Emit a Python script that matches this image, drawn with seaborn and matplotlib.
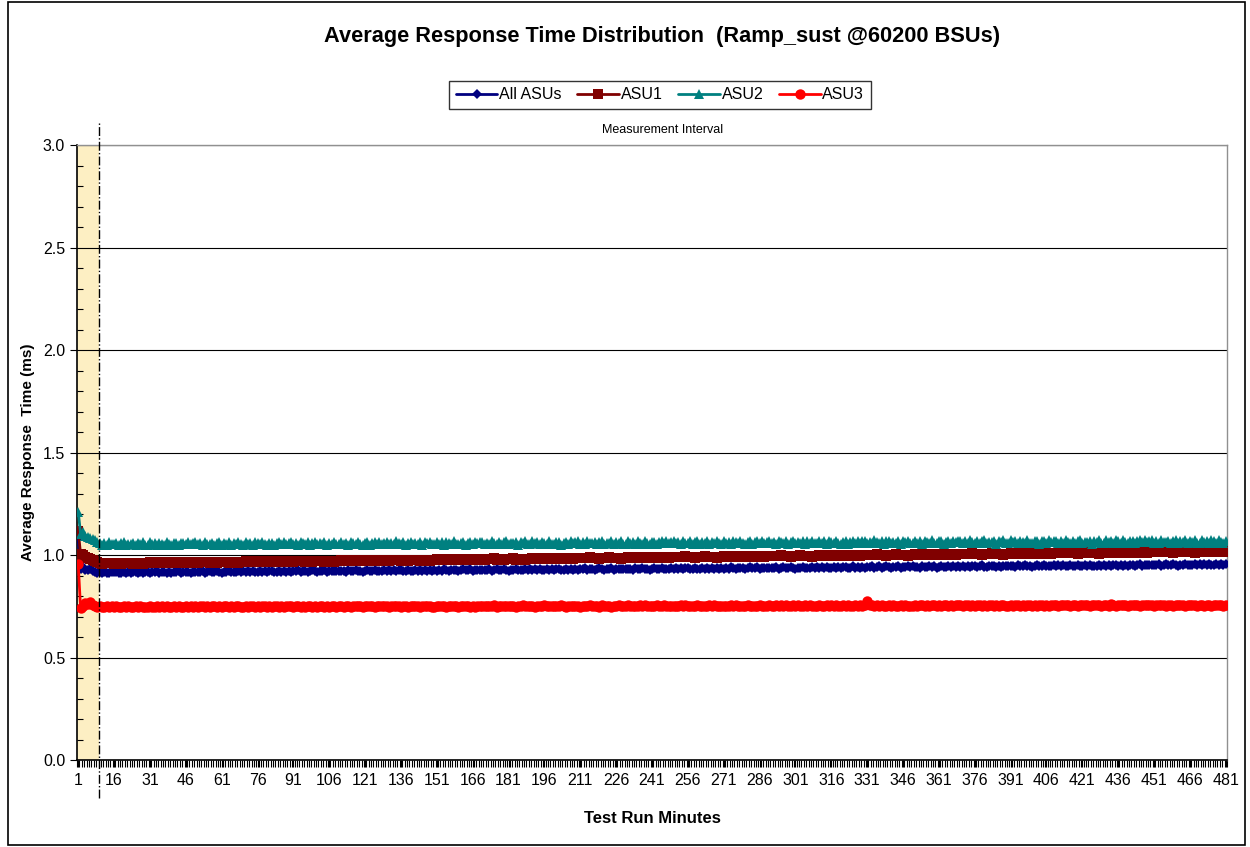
import matplotlib
matplotlib.use("Agg")
import matplotlib.pyplot as plt
import matplotlib.patches as mpatches
from matplotlib.ticker import MultipleLocator, FixedLocator, FormatStrFormatter
import numpy as np
import pandas as pd
import seaborn as sns

# Average response time (ms) per test-run minute
all_asus = [
    1.082, 0.934, 0.941, 0.928, 0.925, 0.931, 0.922, 0.919, 0.914,
    0.916, 0.912, 0.918, 0.913, 0.911, 0.917, 0.915, 0.919, 0.912, 0.914, 0.918, 0.910, 0.916, 0.913, 0.917, 0.915, 0.911, 0.919, 0.914, 0.916,
    0.918, 0.913, 0.917, 0.915, 0.920, 0.912, 0.916, 0.919, 0.914, 0.917, 0.913, 0.918, 0.916, 0.920, 0.914, 0.917, 0.915, 0.919, 0.913, 0.918,
    0.915, 0.919, 0.916, 0.921, 0.914, 0.918, 0.920, 0.915, 0.917, 0.922, 0.916, 0.914, 0.919, 0.917, 0.921, 0.915, 0.918, 0.916, 0.920, 0.917,
    0.921, 0.917, 0.920, 0.916, 0.922, 0.919, 0.917, 0.923, 0.918, 0.921, 0.916, 0.920, 0.922, 0.918, 0.919, 0.924, 0.917, 0.921, 0.919, 0.922,
    0.919, 0.923, 0.920, 0.925, 0.918, 0.922, 0.924, 0.919, 0.921, 0.926, 0.920, 0.918, 0.923, 0.921, 0.925, 0.919, 0.922, 0.920, 0.924, 0.921,
    0.924, 0.920, 0.923, 0.919, 0.926, 0.922, 0.920, 0.925, 0.921, 0.924, 0.919, 0.923, 0.926, 0.921, 0.922, 0.927, 0.920, 0.924, 0.922, 0.925,
    0.922, 0.926, 0.923, 0.928, 0.921, 0.925, 0.927, 0.922, 0.924, 0.929, 0.923, 0.921, 0.926, 0.924, 0.928, 0.922, 0.925, 0.923, 0.927, 0.924,
    0.928, 0.924, 0.927, 0.923, 0.930, 0.926, 0.924, 0.929, 0.925, 0.928, 0.923, 0.927, 0.930, 0.925, 0.926, 0.931, 0.924, 0.928, 0.926, 0.929,
    0.925, 0.929, 0.926, 0.931, 0.924, 0.928, 0.930, 0.925, 0.927, 0.932, 0.926, 0.924, 0.929, 0.927, 0.931, 0.925, 0.928, 0.926, 0.930, 0.927,
    0.931, 0.927, 0.930, 0.926, 0.933, 0.929, 0.927, 0.932, 0.928, 0.931, 0.926, 0.930, 0.933, 0.928, 0.929, 0.934, 0.927, 0.931, 0.929, 0.932,
    0.929, 0.933, 0.930, 0.935, 0.928, 0.932, 0.934, 0.929, 0.931, 0.936, 0.930, 0.928, 0.933, 0.931, 0.935, 0.929, 0.932, 0.930, 0.934, 0.931,
    0.934, 0.930, 0.933, 0.929, 0.936, 0.932, 0.930, 0.935, 0.931, 0.934, 0.929, 0.933, 0.936, 0.931, 0.932, 0.937, 0.930, 0.934, 0.932, 0.935,
    0.932, 0.936, 0.933, 0.938, 0.931, 0.935, 0.937, 0.932, 0.934, 0.939, 0.933, 0.931, 0.936, 0.934, 0.938, 0.932, 0.935, 0.933, 0.937, 0.934,
    0.938, 0.934, 0.937, 0.933, 0.940, 0.936, 0.934, 0.939, 0.935, 0.938, 0.933, 0.937, 0.940, 0.935, 0.936, 0.941, 0.934, 0.938, 0.936, 0.939,
    0.935, 0.939, 0.936, 0.941, 0.934, 0.938, 0.940, 0.935, 0.937, 0.942, 0.936, 0.934, 0.939, 0.937, 0.941, 0.935, 0.938, 0.936, 0.940, 0.937,
    0.941, 0.937, 0.940, 0.936, 0.943, 0.939, 0.937, 0.942, 0.938, 0.941, 0.936, 0.940, 0.943, 0.938, 0.939, 0.944, 0.937, 0.941, 0.939, 0.942,
    0.939, 0.943, 0.940, 0.945, 0.938, 0.942, 0.944, 0.939, 0.941, 0.946, 0.940, 0.938, 0.943, 0.941, 0.945, 0.939, 0.942, 0.940, 0.944, 0.941,
    0.944, 0.940, 0.943, 0.939, 0.946, 0.942, 0.940, 0.945, 0.941, 0.944, 0.939, 0.943, 0.946, 0.941, 0.942, 0.947, 0.940, 0.944, 0.942, 0.945,
    0.942, 0.946, 0.943, 0.948, 0.941, 0.945, 0.947, 0.942, 0.944, 0.949, 0.943, 0.941, 0.946, 0.944, 0.948, 0.942, 0.945, 0.943, 0.947, 0.944,
    0.948, 0.944, 0.947, 0.943, 0.950, 0.946, 0.944, 0.949, 0.945, 0.948, 0.943, 0.947, 0.950, 0.945, 0.946, 0.951, 0.944, 0.948, 0.946, 0.949,
    0.945, 0.949, 0.946, 0.951, 0.944, 0.948, 0.950, 0.945, 0.947, 0.952, 0.946, 0.944, 0.949, 0.947, 0.951, 0.945, 0.948, 0.946, 0.950, 0.947,
    0.951, 0.947, 0.950, 0.946, 0.953, 0.949, 0.947, 0.952, 0.948, 0.951, 0.946, 0.950, 0.953, 0.948, 0.949, 0.954, 0.947, 0.951, 0.949, 0.952,
    0.949, 0.953, 0.950, 0.955, 0.948, 0.952, 0.954, 0.949, 0.951, 0.956, 0.950, 0.948, 0.953, 0.951, 0.955, 0.949, 0.952, 0.950, 0.954, 0.951,
    0.955, 0.951, 0.954, 0.950, 0.957, 0.953, 0.951, 0.956, 0.952, 0.955, 0.950, 0.954,
]

asu1 = [
    1.118, 1.004, 0.998, 0.992, 0.987, 0.981, 0.976, 0.972, 0.968,
    0.961, 0.958, 0.962, 0.960, 0.959, 0.963, 0.958, 0.961, 0.960, 0.957, 0.962, 0.959, 0.961, 0.963, 0.958, 0.960, 0.962, 0.959, 0.957, 0.961,
    0.962, 0.965, 0.963, 0.961, 0.966, 0.962, 0.964, 0.960, 0.965, 0.963, 0.961, 0.964, 0.966, 0.962, 0.963, 0.961, 0.965, 0.964, 0.962, 0.965,
    0.966, 0.963, 0.967, 0.965, 0.964, 0.968, 0.963, 0.966, 0.965, 0.962, 0.967, 0.964, 0.966, 0.968, 0.963, 0.965, 0.967, 0.964, 0.962, 0.966,
    0.967, 0.970, 0.968, 0.966, 0.971, 0.967, 0.969, 0.965, 0.970, 0.968, 0.966, 0.969, 0.971, 0.967, 0.968, 0.966, 0.970, 0.969, 0.967, 0.970,
    0.971, 0.968, 0.972, 0.970, 0.969, 0.973, 0.968, 0.971, 0.970, 0.967, 0.972, 0.969, 0.971, 0.973, 0.968, 0.970, 0.972, 0.969, 0.967, 0.971,
    0.972, 0.975, 0.973, 0.971, 0.976, 0.972, 0.974, 0.970, 0.975, 0.973, 0.971, 0.974, 0.976, 0.972, 0.973, 0.971, 0.975, 0.974, 0.972, 0.975,
    0.976, 0.973, 0.977, 0.975, 0.974, 0.978, 0.973, 0.976, 0.975, 0.972, 0.977, 0.974, 0.976, 0.978, 0.973, 0.975, 0.977, 0.974, 0.972, 0.976,
    0.977, 0.980, 0.978, 0.976, 0.981, 0.977, 0.979, 0.975, 0.980, 0.978, 0.976, 0.979, 0.981, 0.977, 0.978, 0.976, 0.980, 0.979, 0.977, 0.980,
    0.981, 0.978, 0.982, 0.980, 0.979, 0.983, 0.978, 0.981, 0.980, 0.977, 0.982, 0.979, 0.981, 0.983, 0.978, 0.980, 0.982, 0.979, 0.977, 0.981,
    0.982, 0.985, 0.983, 0.981, 0.986, 0.982, 0.984, 0.980, 0.985, 0.983, 0.981, 0.984, 0.986, 0.982, 0.983, 0.981, 0.985, 0.984, 0.982, 0.985,
    0.986, 0.983, 0.987, 0.985, 0.984, 0.988, 0.983, 0.986, 0.985, 0.982, 0.987, 0.984, 0.986, 0.988, 0.983, 0.985, 0.987, 0.984, 0.982, 0.986,
    0.987, 0.990, 0.988, 0.986, 0.991, 0.987, 0.989, 0.985, 0.990, 0.988, 0.986, 0.989, 0.991, 0.987, 0.988, 0.986, 0.990, 0.989, 0.987, 0.990,
    0.991, 0.988, 0.992, 0.990, 0.989, 0.993, 0.988, 0.991, 0.990, 0.987, 0.992, 0.989, 0.991, 0.993, 0.988, 0.990, 0.992, 0.989, 0.987, 0.991,
    0.992, 0.995, 0.993, 0.991, 0.996, 0.992, 0.994, 0.990, 0.995, 0.993, 0.991, 0.994, 0.996, 0.992, 0.993, 0.991, 0.995, 0.994, 0.992, 0.995,
    0.996, 0.993, 0.997, 0.995, 0.994, 0.998, 0.993, 0.996, 0.995, 0.992, 0.997, 0.994, 0.996, 0.998, 0.993, 0.995, 0.997, 0.994, 0.992, 0.996,
    0.997, 1.000, 0.998, 0.996, 1.001, 0.997, 0.999, 0.995, 1.000, 0.998, 0.996, 0.999, 1.001, 0.997, 0.998, 0.996, 1.000, 0.999, 0.997, 1.000,
    1.001, 0.998, 1.002, 1.000, 0.999, 1.003, 0.998, 1.001, 1.000, 0.997, 1.002, 0.999, 1.001, 1.003, 0.998, 1.000, 1.002, 0.999, 0.997, 1.001,
    1.002, 1.005, 1.003, 1.001, 1.006, 1.002, 1.004, 1.000, 1.005, 1.003, 1.001, 1.004, 1.006, 1.002, 1.003, 1.001, 1.005, 1.004, 1.002, 1.005,
    1.006, 1.003, 1.007, 1.005, 1.004, 1.008, 1.003, 1.006, 1.005, 1.002, 1.007, 1.004, 1.006, 1.008, 1.003, 1.005, 1.007, 1.004, 1.002, 1.006,
    1.007, 1.010, 1.008, 1.006, 1.011, 1.007, 1.009, 1.005, 1.010, 1.008, 1.006, 1.009, 1.011, 1.007, 1.008, 1.006, 1.010, 1.009, 1.007, 1.010,
    1.011, 1.008, 1.012, 1.010, 1.009, 1.013, 1.008, 1.011, 1.010, 1.007, 1.012, 1.009, 1.011, 1.013, 1.008, 1.010, 1.012, 1.009, 1.007, 1.011,
    1.012, 1.015, 1.013, 1.011, 1.016, 1.012, 1.014, 1.010, 1.015, 1.013, 1.011, 1.014, 1.016, 1.012, 1.013, 1.011, 1.015, 1.014, 1.012, 1.015,
    1.016, 1.013, 1.017, 1.015, 1.014, 1.018, 1.013, 1.016, 1.015, 1.012, 1.017, 1.014, 1.016, 1.018, 1.013, 1.015, 1.017, 1.014, 1.012, 1.016,
    1.017, 1.020, 1.018, 1.016, 1.021, 1.017, 1.019, 1.015, 1.020, 1.018, 1.016, 1.019,
]

asu2 = [
    1.212, 1.104, 1.112, 1.095, 1.088, 1.083, 1.076, 1.071, 1.064,
    1.061, 1.051, 1.057, 1.049, 1.063, 1.055, 1.052, 1.060, 1.048, 1.058, 1.062, 1.050, 1.056, 1.053, 1.061, 1.047, 1.059, 1.054, 1.062, 1.051,
    1.050, 1.062, 1.053, 1.059, 1.048, 1.061, 1.056, 1.051, 1.063, 1.052, 1.049, 1.058, 1.060, 1.047, 1.057, 1.061, 1.052, 1.062, 1.054, 1.059,
    1.062, 1.052, 1.058, 1.050, 1.064, 1.056, 1.053, 1.061, 1.049, 1.059, 1.063, 1.051, 1.057, 1.054, 1.062, 1.048, 1.060, 1.055, 1.063, 1.052,
    1.051, 1.063, 1.054, 1.060, 1.049, 1.062, 1.057, 1.052, 1.064, 1.053, 1.050, 1.059, 1.061, 1.048, 1.058, 1.062, 1.053, 1.063, 1.055, 1.060,
    1.063, 1.053, 1.059, 1.051, 1.065, 1.057, 1.054, 1.062, 1.050, 1.060, 1.064, 1.052, 1.058, 1.055, 1.063, 1.049, 1.061, 1.056, 1.064, 1.053,
    1.052, 1.064, 1.055, 1.061, 1.050, 1.063, 1.058, 1.053, 1.065, 1.054, 1.051, 1.060, 1.062, 1.049, 1.059, 1.063, 1.054, 1.064, 1.056, 1.061,
    1.064, 1.054, 1.060, 1.052, 1.066, 1.058, 1.055, 1.063, 1.051, 1.061, 1.065, 1.053, 1.059, 1.056, 1.064, 1.050, 1.062, 1.057, 1.065, 1.054,
    1.053, 1.065, 1.056, 1.062, 1.051, 1.064, 1.059, 1.054, 1.066, 1.055, 1.052, 1.061, 1.063, 1.050, 1.060, 1.064, 1.055, 1.065, 1.057, 1.062,
    1.065, 1.055, 1.061, 1.053, 1.067, 1.059, 1.056, 1.064, 1.052, 1.062, 1.066, 1.054, 1.060, 1.057, 1.065, 1.051, 1.063, 1.058, 1.066, 1.055,
    1.054, 1.066, 1.057, 1.063, 1.052, 1.065, 1.060, 1.055, 1.067, 1.056, 1.053, 1.062, 1.064, 1.051, 1.061, 1.065, 1.056, 1.066, 1.058, 1.063,
    1.066, 1.056, 1.062, 1.054, 1.068, 1.060, 1.057, 1.065, 1.053, 1.063, 1.067, 1.055, 1.061, 1.058, 1.066, 1.052, 1.064, 1.059, 1.067, 1.056,
    1.055, 1.067, 1.058, 1.064, 1.053, 1.066, 1.061, 1.056, 1.068, 1.057, 1.054, 1.063, 1.065, 1.052, 1.062, 1.066, 1.057, 1.067, 1.059, 1.064,
    1.067, 1.057, 1.063, 1.055, 1.069, 1.061, 1.058, 1.066, 1.054, 1.064, 1.068, 1.056, 1.062, 1.059, 1.067, 1.053, 1.065, 1.060, 1.068, 1.057,
    1.056, 1.068, 1.059, 1.065, 1.054, 1.067, 1.062, 1.057, 1.069, 1.058, 1.055, 1.064, 1.066, 1.053, 1.063, 1.067, 1.058, 1.068, 1.060, 1.065,
    1.068, 1.058, 1.064, 1.056, 1.070, 1.062, 1.059, 1.067, 1.055, 1.065, 1.069, 1.057, 1.063, 1.060, 1.068, 1.054, 1.066, 1.061, 1.069, 1.058,
    1.057, 1.069, 1.060, 1.066, 1.055, 1.068, 1.063, 1.058, 1.070, 1.059, 1.056, 1.065, 1.067, 1.054, 1.064, 1.068, 1.059, 1.069, 1.061, 1.066,
    1.069, 1.059, 1.065, 1.057, 1.071, 1.063, 1.060, 1.068, 1.056, 1.066, 1.070, 1.058, 1.064, 1.061, 1.069, 1.055, 1.067, 1.062, 1.070, 1.059,
    1.058, 1.070, 1.061, 1.067, 1.056, 1.069, 1.064, 1.059, 1.071, 1.060, 1.057, 1.066, 1.068, 1.055, 1.065, 1.069, 1.060, 1.070, 1.062, 1.067,
    1.070, 1.060, 1.066, 1.058, 1.072, 1.064, 1.061, 1.069, 1.057, 1.067, 1.071, 1.059, 1.065, 1.062, 1.070, 1.056, 1.068, 1.063, 1.071, 1.060,
    1.059, 1.071, 1.062, 1.068, 1.057, 1.070, 1.065, 1.060, 1.072, 1.061, 1.058, 1.067, 1.069, 1.056, 1.066, 1.070, 1.061, 1.071, 1.063, 1.068,
    1.070, 1.060, 1.066, 1.058, 1.072, 1.064, 1.061, 1.069, 1.057, 1.067, 1.071, 1.059, 1.065, 1.062, 1.070, 1.056, 1.068, 1.063, 1.071, 1.060,
    1.060, 1.072, 1.063, 1.069, 1.058, 1.071, 1.066, 1.061, 1.073, 1.062, 1.059, 1.068, 1.070, 1.057, 1.067, 1.071, 1.062, 1.072, 1.064, 1.069,
    1.071, 1.061, 1.067, 1.059, 1.073, 1.065, 1.062, 1.070, 1.058, 1.068, 1.072, 1.060, 1.066, 1.063, 1.071, 1.057, 1.069, 1.064, 1.072, 1.061,
    1.060, 1.072, 1.063, 1.069, 1.058, 1.071, 1.066, 1.061, 1.073, 1.062, 1.059, 1.066,
]

asu3 = [
    0.958, 0.741, 0.752, 0.768, 0.761, 0.772, 0.758, 0.749, 0.746,
    0.749, 0.746, 0.748, 0.750, 0.747, 0.751, 0.745, 0.749, 0.748, 0.746, 0.750, 0.747, 0.749, 0.748, 0.745, 0.750, 0.747, 0.751, 0.748, 0.746,
    0.747, 0.750, 0.745, 0.748, 0.749, 0.746, 0.751, 0.747, 0.750, 0.748, 0.746, 0.749, 0.747, 0.751, 0.748, 0.745, 0.750, 0.747, 0.749, 0.748,
    0.750, 0.747, 0.749, 0.751, 0.748, 0.752, 0.746, 0.750, 0.749, 0.747, 0.751, 0.748, 0.750, 0.749, 0.746, 0.751, 0.748, 0.752, 0.749, 0.747,
    0.748, 0.751, 0.746, 0.749, 0.750, 0.747, 0.752, 0.748, 0.751, 0.749, 0.747, 0.750, 0.748, 0.752, 0.749, 0.746, 0.751, 0.748, 0.750, 0.749,
    0.751, 0.746, 0.749, 0.750, 0.748, 0.753, 0.747, 0.749, 0.750, 0.746, 0.752, 0.748, 0.749, 0.751, 0.746, 0.750, 0.748, 0.752, 0.749, 0.747,
    0.749, 0.752, 0.747, 0.750, 0.751, 0.748, 0.753, 0.749, 0.752, 0.750, 0.748, 0.751, 0.749, 0.753, 0.750, 0.747, 0.752, 0.749, 0.751, 0.750,
    0.751, 0.748, 0.750, 0.752, 0.749, 0.753, 0.747, 0.751, 0.750, 0.748, 0.752, 0.749, 0.751, 0.750, 0.747, 0.752, 0.749, 0.753, 0.750, 0.748,
    0.748, 0.751, 0.749, 0.750, 0.752, 0.747, 0.753, 0.749, 0.751, 0.750, 0.748, 0.752, 0.749, 0.751, 0.750, 0.747, 0.752, 0.748, 0.751, 0.750,
    0.752, 0.749, 0.751, 0.753, 0.750, 0.754, 0.748, 0.752, 0.751, 0.749, 0.753, 0.750, 0.752, 0.751, 0.748, 0.753, 0.750, 0.754, 0.751, 0.749,
    0.750, 0.753, 0.748, 0.751, 0.752, 0.749, 0.754, 0.750, 0.753, 0.751, 0.749, 0.752, 0.750, 0.754, 0.751, 0.748, 0.753, 0.750, 0.752, 0.751,
    0.753, 0.748, 0.751, 0.752, 0.750, 0.755, 0.749, 0.751, 0.752, 0.748, 0.754, 0.750, 0.751, 0.753, 0.748, 0.752, 0.750, 0.754, 0.751, 0.749,
    0.751, 0.754, 0.749, 0.752, 0.753, 0.750, 0.755, 0.751, 0.754, 0.752, 0.750, 0.753, 0.751, 0.755, 0.752, 0.749, 0.754, 0.751, 0.753, 0.752,
    0.753, 0.750, 0.752, 0.754, 0.751, 0.755, 0.749, 0.753, 0.752, 0.750, 0.754, 0.751, 0.753, 0.752, 0.749, 0.754, 0.751, 0.755, 0.752, 0.750,
    0.750, 0.753, 0.751, 0.752, 0.754, 0.749, 0.755, 0.751, 0.753, 0.752, 0.750, 0.754, 0.751, 0.753, 0.752, 0.749, 0.754, 0.750, 0.753, 0.752,
    0.754, 0.751, 0.753, 0.755, 0.752, 0.756, 0.750, 0.754, 0.753, 0.751, 0.755, 0.752, 0.754, 0.753, 0.750, 0.755, 0.752, 0.756, 0.753, 0.751,
    0.752, 0.755, 0.750, 0.753, 0.754, 0.751, 0.756, 0.752, 0.755, 0.753, 0.751, 0.754, 0.752, 0.756, 0.753, 0.750, 0.755, 0.752, 0.754, 0.753,
    0.754, 0.776, 0.756, 0.755, 0.752, 0.756, 0.750, 0.754, 0.753, 0.751, 0.755, 0.752, 0.754, 0.753, 0.750, 0.755, 0.752, 0.756, 0.753, 0.751,
    0.753, 0.756, 0.751, 0.754, 0.755, 0.752, 0.757, 0.753, 0.756, 0.754, 0.752, 0.755, 0.753, 0.757, 0.754, 0.751, 0.756, 0.753, 0.755, 0.754,
    0.755, 0.752, 0.754, 0.756, 0.753, 0.757, 0.751, 0.755, 0.754, 0.752, 0.756, 0.753, 0.755, 0.754, 0.751, 0.756, 0.753, 0.757, 0.754, 0.752,
    0.752, 0.755, 0.753, 0.754, 0.756, 0.751, 0.757, 0.753, 0.755, 0.754, 0.752, 0.756, 0.753, 0.755, 0.754, 0.751, 0.756, 0.752, 0.755, 0.754,
    0.756, 0.753, 0.755, 0.757, 0.754, 0.758, 0.752, 0.756, 0.755, 0.753, 0.757, 0.754, 0.756, 0.755, 0.752, 0.757, 0.754, 0.758, 0.755, 0.753,
    0.754, 0.757, 0.752, 0.762, 0.756, 0.753, 0.758, 0.754, 0.757, 0.755, 0.753, 0.756, 0.754, 0.758, 0.755, 0.752, 0.757, 0.754, 0.756, 0.755,
    0.756, 0.753, 0.755, 0.757, 0.754, 0.758, 0.752, 0.756, 0.755, 0.753, 0.757, 0.754, 0.756, 0.755, 0.752, 0.757, 0.754, 0.758, 0.755, 0.753,
    0.754, 0.757, 0.752, 0.755, 0.756, 0.753, 0.758, 0.754, 0.757, 0.755, 0.753, 0.756,
]

series_names = ["All ASUs", "ASU1", "ASU2", "ASU3"]
series_values = [all_asus, asu1, asu2, asu3]
rampup_end = 9.5  # minutes before the measurement interval starts
x_tick_labels = list(range(1, 482, 15))

frames = []
for name, vals in zip(series_names, series_values):
    frames.append(pd.DataFrame({"minute": np.arange(1, len(vals) + 1),
                                "ms": vals, "series": name}))
df = pd.concat(frames, ignore_index=True)
n_minutes = df["minute"].max()

sns.set_style("white")
plt.rcParams["font.family"] = ["Liberation Sans", "DejaVu Sans"]
plt.rcParams.update({"text.color": "black", "axes.labelcolor": "black",
                     "xtick.color": "black", "ytick.color": "black"})

fig = plt.figure(figsize=(12.5, 8.47), dpi=100)
ax = fig.add_axes([0.0616, 0.1027, 0.92, 0.7261])

colors = {"All ASUs": "#000080", "ASU1": "#800000", "ASU2": "#008080", "ASU3": "#FF0000"}
markers = {"All ASUs": "D", "ASU1": "s", "ASU2": "^", "ASU3": "o"}
msizes = {"All ASUs": 5.5, "ASU1": 6.5, "ASU2": 7.0, "ASU3": 7.5}

# ramp-up shading
ax.axvspan(0.5, rampup_end, color="#FDEFC3", zorder=0, lw=0)

for name in series_names:
    sub = df[df["series"] == name]
    sns.lineplot(data=sub, x="minute", y="ms", ax=ax, color=colors[name],
                 marker=markers[name], markersize=msizes[name], markeredgewidth=0,
                 linewidth=2.0, label=name, zorder=3)

# measurement interval marker
ax.axvline(rampup_end, ymin=-0.062, ymax=1.036, color="black", ls="-.",
           lw=1.0, clip_on=False, zorder=4)
fig.text(663 / 1250, 1 - 130 / 847, "Measurement Interval", ha="center", va="center",
         fontsize=9)

ax.set_xlim(0.5, n_minutes + 0.5)
ax.set_ylim(0, 3.0)
ax.yaxis.set_major_locator(MultipleLocator(0.5))
ax.yaxis.set_minor_locator(MultipleLocator(0.1))
ax.yaxis.set_major_formatter(FormatStrFormatter("%.1f"))
ax.xaxis.set_major_locator(FixedLocator(x_tick_labels))
ax.xaxis.set_minor_locator(FixedLocator(np.arange(0.5, n_minutes + 1, 1)))
ax.set_xticklabels([str(t) for t in x_tick_labels])
ax.tick_params(axis="x", which="both", direction="out", length=5, width=0.8,
               labelsize=11.5, pad=4, bottom=True)
ax.tick_params(axis="y", which="major", direction="out", length=5, width=0.8,
               labelsize=11.5, left=True)
ax.tick_params(axis="y", which="minor", direction="in", length=4, width=0.8, left=True)

ax.grid(axis="y", which="major", color="black", lw=0.8)
ax.grid(axis="x", visible=False)
for side in ["left", "bottom"]:
    ax.spines[side].set_color("black")
    ax.spines[side].set_linewidth(1.2)
for side in ["top", "right"]:
    ax.spines[side].set_color("#909090")
    ax.spines[side].set_linewidth(1.0)

ax.set_xlabel("Test Run Minutes", fontsize=12, fontweight="bold", labelpad=17)
ax.set_ylabel("Average Response  Time (ms)", fontsize=11, fontweight="bold", labelpad=6)

fig.suptitle("Average Response Time Distribution  (Ramp_sust @60200 BSUs)",
             fontsize=15.7, fontweight="bold", y=0.957, va="center", x=0.53)

leg = ax.legend(loc="center", bbox_to_anchor=(0.528, 0.888), bbox_transform=fig.transFigure,
                ncol=4, frameon=True, fancybox=False, edgecolor="black", fontsize=11.5,
                handlelength=2.6, handletextpad=0.1, columnspacing=1.0,
                borderpad=0.4)
leg.get_frame().set_linewidth(1.0)

fig.patches.append(mpatches.Rectangle((0.006, 0.002), 0.99, 0.996, transform=fig.transFigure,
                                      fill=False, edgecolor="black", lw=1.2))

fig.savefig("out.png", dpi=100)
